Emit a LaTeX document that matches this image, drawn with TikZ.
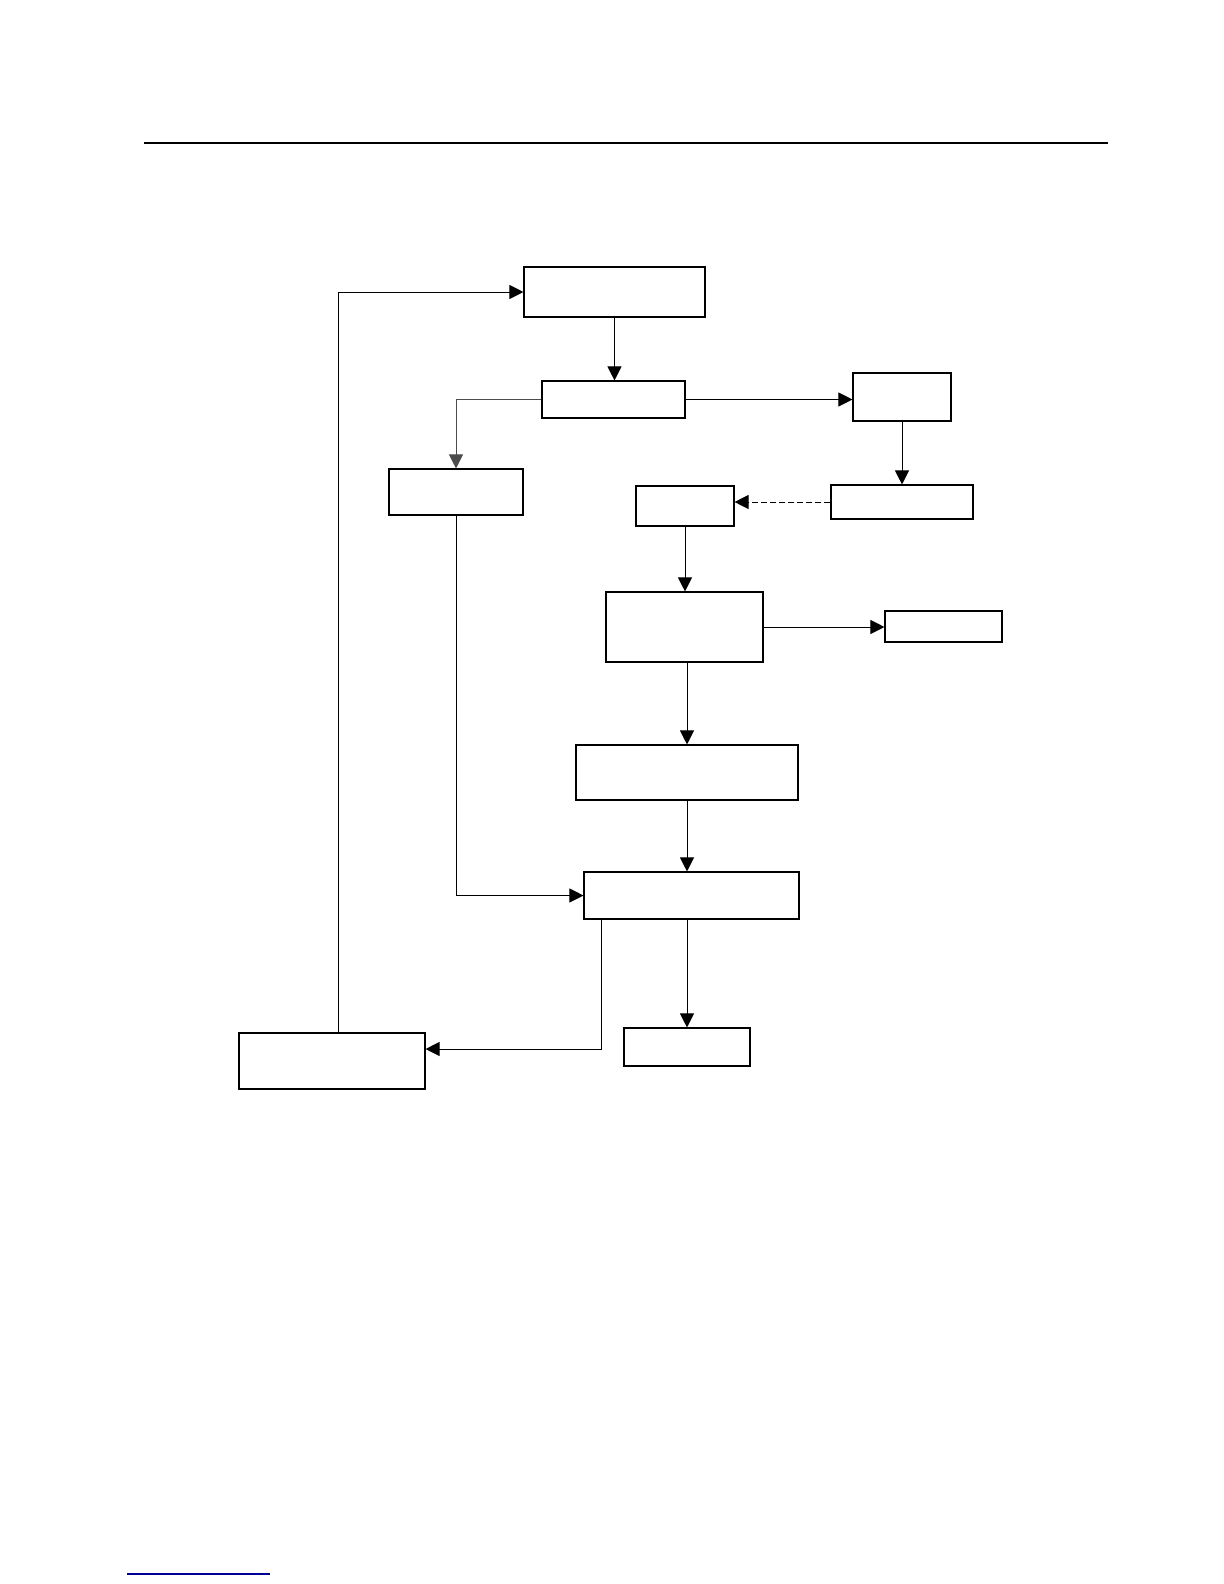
\documentclass[tikz,border=0pt]{standalone}
\usetikzlibrary{arrows.meta}
\begin{document}
\begin{tikzpicture}[x=0.5pt, y=-0.5pt,
    kuang/.style n args={2}{draw, line width=0.55pt, inner sep=0pt, minimum width=#1pt, minimum height=#2pt},
    jiantou/.style={line width=0.5pt, -{Triangle[length=7pt,width=7pt]}}]
    \useasboundingbox (0,0) rectangle (1224,1584);

    % 页眉线
    \draw[line width=1pt] (144,143) -- (1108,143);

    % 方框
    \node[kuang={90.5}{25}]   (A) at (614.5,292)   {};
    \node[kuang={71.5}{18.5}] (B) at (613.5,399.5) {};
    \node[kuang={49}{24}]     (C) at (902,397)     {};
    \node[kuang={67}{23}]     (D) at (456,492)     {};
    \node[kuang={49}{20}]     (E) at (685,506)     {};
    \node[kuang={71}{17}]     (F) at (902,502)     {};
    \node[kuang={78.5}{35}]   (G) at (684.5,627)   {};
    \node[kuang={58.5}{15.5}] (H) at (943.5,626.5) {};
    \node[kuang={111}{27.5}]  (I) at (687,772.5)   {};
    \node[kuang={107.5}{23.5}](J) at (691.5,895.5) {};
    \node[kuang={63}{19}]     (K) at (687,1047)    {};
    \node[kuang={93}{28}]     (L) at (332,1061)    {};

    % 连线
    \draw[jiantou] (A.south) -- (A.south |- B.north);
    \draw[jiantou, black!70] (B.west) -| (D.north);
    \draw[jiantou] (B.east) -- (B.east -| C.west);
    \draw[jiantou] (C.south) -- (C.south |- F.north);
    \draw[jiantou, dash pattern=on 3pt off 1.5pt] (F.west) -- (F.west -| E.east);
    \draw[jiantou] (E.south) -- (E.south |- G.north);
    \draw[jiantou] (G.east) -- (G.east -| H.west);
    \draw[jiantou] (G.south -| I.north) -- (I.north);
    \draw[jiantou] (I.south) -- (I.south |- J.north);
    \draw[jiantou] (D.south) |- (J.west);
    \draw[jiantou] (J.south -| K.north) -- (K.north);
    \draw[jiantou] ([xshift=9pt]J.south west) |- ([yshift=6pt]L.east);
    \draw[jiantou] ([xshift=3pt]L.north) |- (A.west);

    % 页脚线
    \draw[blue!60!black, line width=0.6pt] (127,1574) -- (270,1574);
\end{tikzpicture}
\end{document}
